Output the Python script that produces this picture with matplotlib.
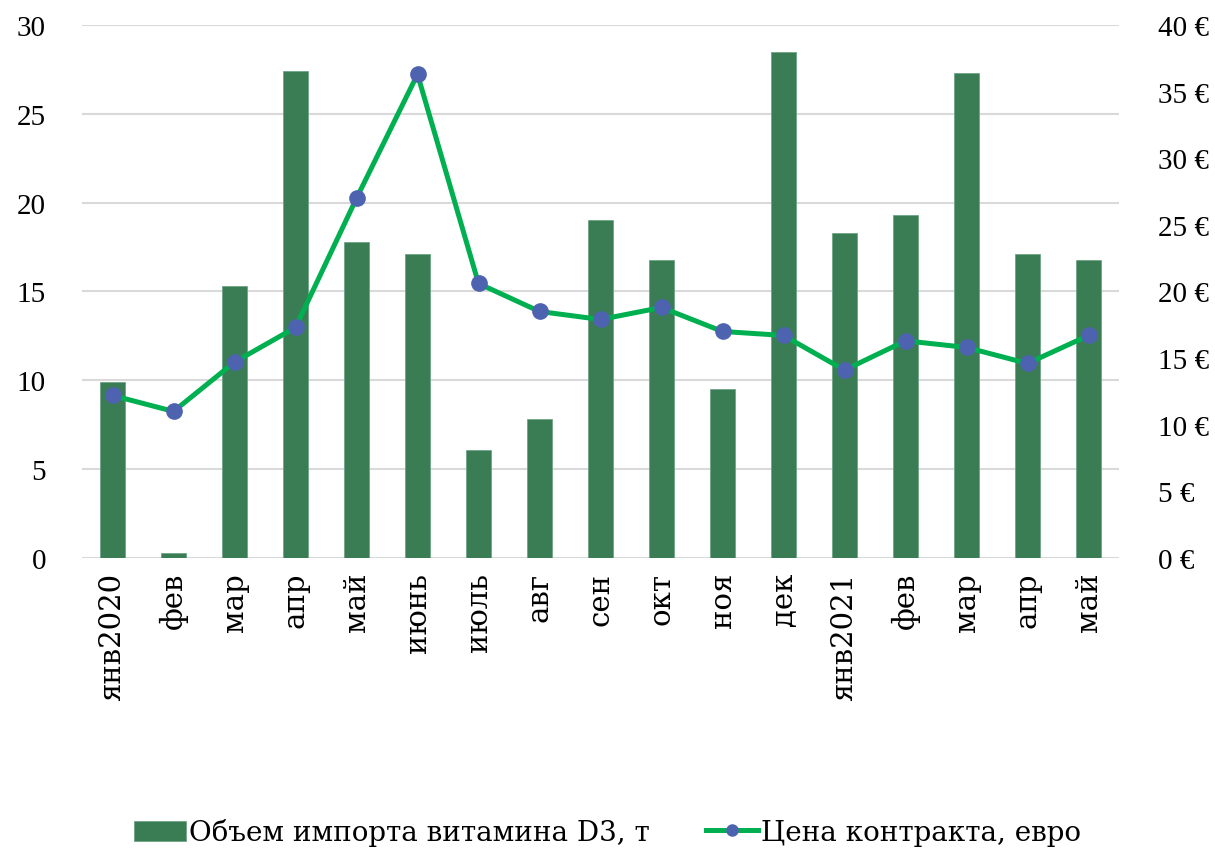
import numpy as np
import matplotlib.pyplot as plt
from matplotlib.lines import Line2D
from matplotlib.patches import Patch
from matplotlib.ticker import FuncFormatter

# Data
months = ["янв2020", "фев", "мар", "апр", "май", "июнь", "июль", "авг", "сен",
          "окт", "ноя", "дек", "янв2021", "фев", "мар", "апр", "май"]
volume = [9.9, 0.3, 15.3, 27.4, 17.8, 17.1, 6.1, 7.8, 19.0,
          16.8, 9.5, 28.5, 18.3, 19.3, 27.3, 17.1, 16.8]
price = [12.2, 11.0, 14.7, 17.3, 27.0, 36.3, 20.6, 18.5, 17.9,
         18.8, 17.0, 16.7, 14.1, 16.3, 15.8, 14.6, 16.7]

bar_label = "Объем импорта витамина D3, т"
line_label = "Цена контракта, евро"

bar_color = "#3A7D55"
line_color = "#00B050"
marker_color = "#4E63B0"

plt.rcParams["font.family"] = ["Liberation Serif", "DejaVu Serif"]

fig = plt.figure(figsize=(12.15, 8.53), dpi=100)
ax = fig.add_axes([0.0675, 0.3447, 0.8535, 0.6248])
ax2 = ax.twinx()

x = np.arange(len(months))
ax.bar(x, volume, width=0.4, color=bar_color, edgecolor="#6FA487",
       linewidth=0.6, zorder=2)
ax2.plot(x, price, color=line_color, lw=3.6, marker="o", ms=11,
         mfc=marker_color, mec=marker_color, zorder=3)

ax.set_xlim(-0.5, len(months) - 0.5)
ax.set_ylim(0, 30)
ax.set_yticks(np.arange(0, 31, 5))
ax2.set_ylim(0, 40)
ax2.set_yticks(np.arange(0, 41, 5))
ax2.yaxis.set_major_formatter(FuncFormatter(lambda v, p: f"{v:.0f} €"))

ax.set_xticks(x)
ax.set_xticklabels(months, rotation=90, va="top", ha="center",
                   family="DejaVu Serif", fontsize=20)
ax.grid(axis="y", color="#D9D9D9", lw=1.5, zorder=0)
ax.set_axisbelow(True)

for a in (ax, ax2):
    for s in a.spines.values():
        s.set_visible(False)
    a.tick_params(length=0, labelsize=21, colors="black")
ax.tick_params(axis="y", pad=26)
ax.tick_params(axis="x", pad=10)
ax2.tick_params(axis="y", pad=28)

handles = [Patch(facecolor=bar_color, edgecolor="#6FA487", lw=0.6),
           Line2D([], [], color=line_color, lw=3.6, marker="o", ms=8,
                  mfc=marker_color, mec=marker_color)]
fig.legend(handles=handles, labels=[bar_label, line_label],
           loc="center", bbox_to_anchor=(0.5, 0.023), ncol=2, frameon=False,
           prop={"family": "DejaVu Serif", "size": 20},
           handlelength=1.85, handleheight=0.75, handletextpad=0.1,
           columnspacing=2.05)

fig.savefig("out.png", dpi=100)
